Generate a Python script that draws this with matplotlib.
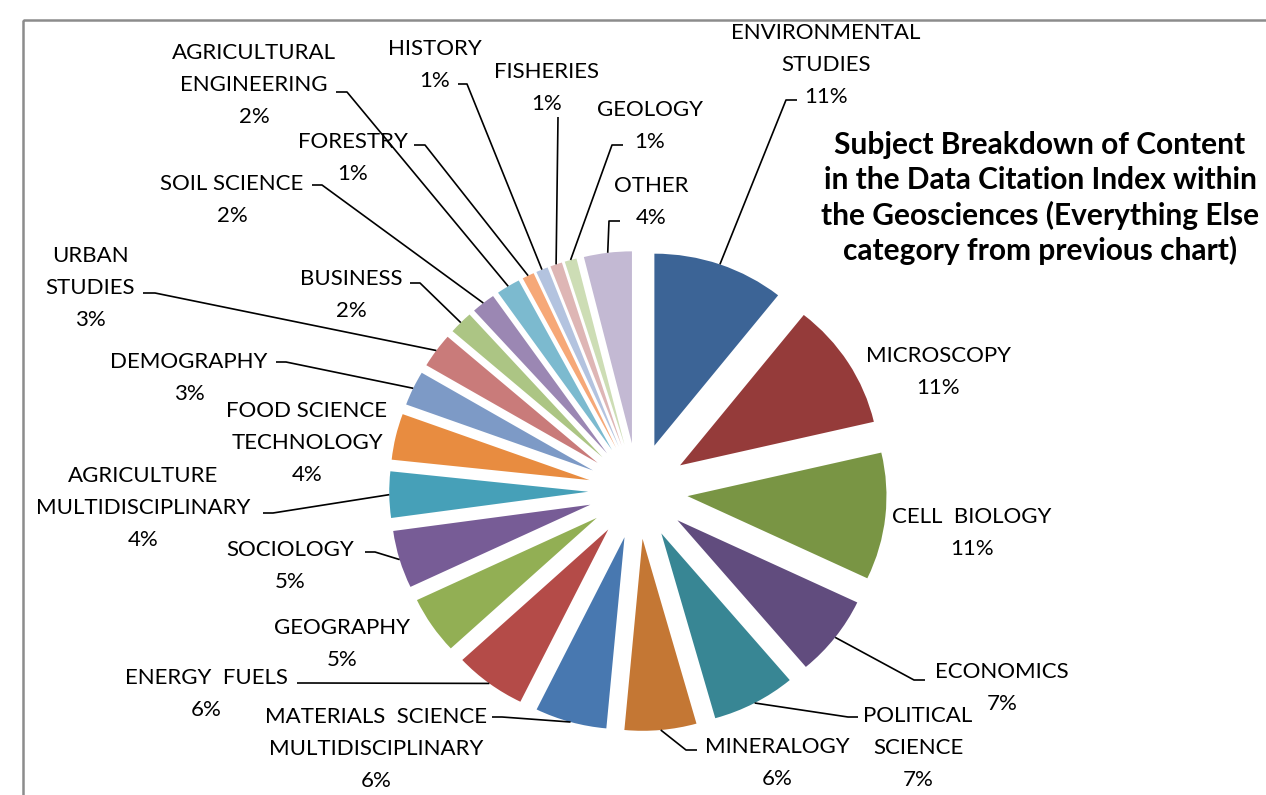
import numpy as np
import matplotlib.pyplot as plt
from matplotlib.patches import Rectangle

W, H = 1266, 795

# Subject shares, clockwise from 12 o'clock
subjects = ["ENVIRONMENTAL\nSTUDIES", "MICROSCOPY", "CELL  BIOLOGY", "ECONOMICS",
            "POLITICAL\nSCIENCE", "MINERALOGY", "MATERIALS  SCIENCE\nMULTIDISCIPLINARY",
            "ENERGY  FUELS", "GEOGRAPHY", "SOCIOLOGY", "AGRICULTURE\nMULTIDISCIPLINARY",
            "FOOD SCIENCE\nTECHNOLOGY", "DEMOGRAPHY", "URBAN\nSTUDIES", "BUSINESS",
            "SOIL SCIENCE", "AGRICULTURAL\nENGINEERING", "FORESTRY", "HISTORY",
            "FISHERIES", "GEOLOGY", "OTHER"]
share = [11, 11, 11, 7, 7, 6, 6, 6, 5, 5, 4, 4, 3, 3, 2, 2, 2, 1, 1, 1, 1, 4]
colors = ["#3c6496", "#953b3a", "#799544", "#614c7e", "#388694", "#c47734",
          "#4878b0", "#b44b48", "#92af54", "#775c96", "#46a0b8", "#e88c40",
          "#7d9ac6", "#c97b7a", "#acc584", "#9b87b3", "#7cbacf", "#f6a878",
          "#b3c3df", "#deb6b5", "#cdddb5", "#c3b9d3"]

title_lines = ["Subject Breakdown of Content", "in the Data Citation Index within",
               "the Geosciences (Everything Else", "category from previous chart)"]

# label placement (pixels, first line centre) and leader elbow / stub end
label_pos = [(826, 33), (938, 356), (972, 517), (1002, 672), (918, 716), (777, 747),
             (376, 717), (206, 678), (342, 628), (290, 550), (143, 476), (307, 411),
             (189, 362), (90, 256), (351, 279), (232, 184), (254, 53), (353, 142),
             (435, 49), (547, 72), (650, 110), (651, 186)]
leaders = [((786, 100), (797, 100)), None, None, ((914, 680), (925, 680)),
           ((848, 717), (858, 717)), ((686, 750), (697, 750)), ((502, 717), (492, 717)),
           ((310, 683), (297, 683)), None, ((375, 552), (365, 552)),
           ((273, 513), (263, 513)), None, ((286, 362), (276, 362)),
           ((155, 293), (143, 293)), ((420, 283), (410, 283)), ((322, 185), (312, 185)),
           ((347, 92), (336, 92)), ((425, 145), (414, 145)), ((467, 84), (458, 84)),
           ((558, 117), (558, 117)), ((612, 145), (623, 145)), ((609, 221), (620, 221))]

cx, cy = 638, 491      # pie centre in pixels
rx, ry = 199, 192      # pie radius in pixels (slightly stretched)
line_step = 32

fig = plt.figure(figsize=(W / 100, H / 100), dpi=100)
ax = fig.add_axes([0, 0, 1, 1])
wedges, _ = ax.pie(share, colors=colors, startangle=90, counterclock=False,
                   explode=[0.25] * len(share), radius=1, center=(0, 0),
                   wedgeprops=dict(linewidth=0))
ax.set_aspect("auto")
ax.set_xlim(-cx / rx, (W - cx) / rx)
ax.set_ylim(-(H - cy) / ry, cy / ry)
ax.axis("off")

lab = fig.add_axes([0, 0, 1, 1])
lab.set_xlim(0, W)
lab.set_ylim(H, 0)
lab.axis("off")
lab.patch.set_alpha(0)

lab.add_patch(Rectangle((23, 20), W, H, fill=False, edgecolor="#8c8c8c", lw=1.8))

font = "Lato"
for name, v, (x, y) in zip(subjects, share, label_pos):
    lines = name.split("\n") + [f"{v}%"]
    for k, s in enumerate(lines):
        lab.text(x, y + k * line_step, s, ha="center", va="center",
                 fontsize=16, family=font, color="black")

to_lab = lab.transData.inverted()
for w, ld in zip(wedges, leaders):
    if ld is None:
        continue
    t = np.deg2rad((w.theta1 + w.theta2) / 2)
    p = (w.center[0] + w.r * np.cos(t), w.center[1] + w.r * np.sin(t))
    ax_pt = to_lab.transform(ax.transData.transform(p))
    (ex, ey), (sx, sy) = ld
    lab.plot([ax_pt[0], ex, sx], [ax_pt[1], ey, sy], color="black", lw=1.2,
             solid_capstyle="butt")

for k, s in enumerate(title_lines):
    lab.text(1040, 145 + k * 35, s, ha="center", va="center", fontsize=21.5,
             family=font, weight="bold", color="black")

fig.savefig("out.png", dpi=100)
